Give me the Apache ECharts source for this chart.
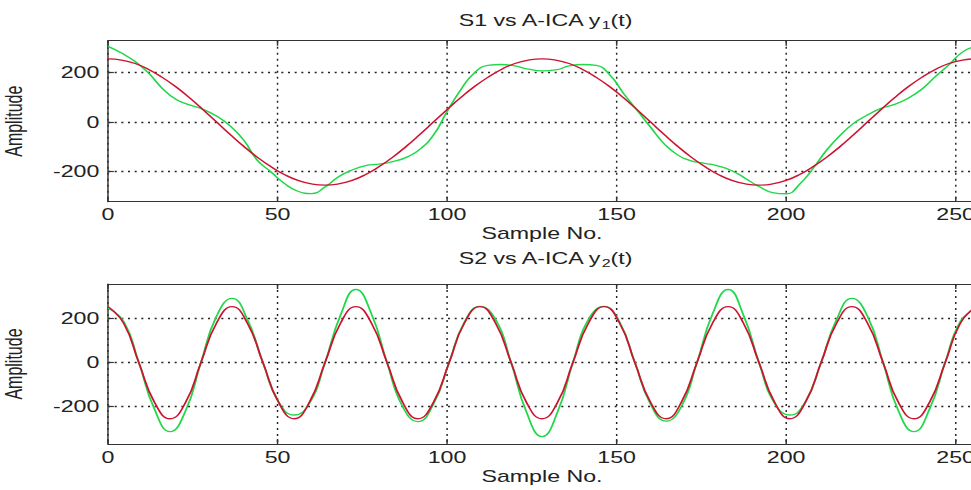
<!DOCTYPE html>
<html><head><meta charset="utf-8">
<script src="https://cdn.jsdelivr.net/npm/echarts@6/dist/echarts.min.js"></script>
<style>
html,body{margin:0;padding:0;background:#fff;overflow:hidden;width:971px;height:490px}
#wrap{width:971px;height:490px;overflow:hidden;position:relative;background:#fff}
#chart{width:670px;height:490px;position:absolute;left:0;top:0;transform:scaleX(1.44925);transform-origin:0 0}
</style></head>
<body><div id="wrap"><div id="chart"></div></div>
<script>
// ---- data ----
const sampleTop = [0,4,8,12,16,20,24,28,32,36,40,44,48,52,56,60,64,68,72,76,80,84,88,92,96,100,104,108,112,116,120,124,128,132,136,140,144,148,152,156,160,164,168,172,176,180,184,188,192,196,200,204,208,212,216,220,224,228,232,236,240,244,248,252,256];
const s1 = [255,250,236,212,180,142,98,50,0,-50,-98,-142,-180,-212,-236,-250,-255,-250,-236,-212,-180,-142,-98,-50,0,50,98,142,180,212,236,250,255,250,236,212,180,142,98,50,0,-50,-98,-142,-180,-212,-236,-250,-255,-250,-236,-212,-180,-142,-98,-50,0,50,98,142,180,212,236,250,255];
const y1 = [305,278,244,197,136,92,69,51,24,-16,-73,-154,-201,-248,-280,-289,-263,-221,-194,-176,-170,-160,-143,-110,-53,42,129,197,228,232,226,213,206,210,226,232,228,190,116,48,-21,-88,-133,-157,-167,-178,-197,-228,-261,-285,-290,-251,-187,-113,-53,-5,28,55,71,96,132,183,230,282,305];
const sampleBottom = [0,4.6,9.1,13.7,18.3,22.9,27.4,32.0,36.6,41.1,45.7,50.3,54.9,59.4,64.0,68.6,73.1,77.7,82.3,86.9,91.4,96.0,100.6,105.1,109.7,114.3,118.9,123.4,128.0,132.6,137.1,141.7,146.3,150.9,155.4,160.0,164.6,169.1,173.7,178.3,182.9,187.4,192.0,196.6,201.1,205.7,210.3,214.9,219.4,224.0,228.6,233.1,237.7,242.3,246.9,251.4,256.0];
const s2 = [255,180,0,-180,-255,-180,0,180,255,180,0,-180,-255,-180,0,180,255,180,0,-180,-255,-180,0,180,255,180,0,-180,-255,-180,0,180,255,180,0,-180,-255,-180,0,180,255,180,0,-180,-255,-180,0,180,255,180,0,-180,-255,-180,0,180,255];
const y2 = [248,188,0,-211,-314,-218,0,211,293,197,0,-178,-238,-185,0,217,333,222,0,-200,-268,-188,0,184,256,196,0,-224,-336,-224,0,196,256,184,0,-188,-266,-200,0,222,333,217,0,-185,-238,-178,0,197,293,211,0,-218,-314,-211,0,188,248];
const xTicks = [0,50,100,150,200,250];
const yTicks = [-200,0,200];
const titles = [['S1 vs A-ICA y','1','(t)'],['S2 vs A-ICA y','2','(t)']];
const xName = 'Sample No.';
const yName = 'Amplitude';

// ---- layout (inner coordinates, page is stretched horizontally) ----
const S = 971/670;
const L = 108/S, R = 670 - 976/S;
const FONT = 'Liberation Sans';
const TXT = '#222';
const AX = '#333';
const RED = '#cc1430', GREEN = '#22d84a';

const grids = [
  {left:L, right:R, top:40.7, height:161, outerBoundsMode:'none', containLabel:false},
  {left:L, right:R, top:284, height:160, outerBoundsMode:'none', containLabel:false}
];
const yRange = [[-322,328],[-370,358]];

function xBottom(g){
  return {gridIndex:g, type:'value', min:0, max:256, position:'bottom',
    axisLine:{show:true, onZero:false, lineStyle:{color:AX, width:1}},
    axisTick:{show:true, inside:true, length:5, customValues:xTicks, lineStyle:{color:AX, width:1}},
    axisLabel:{show:true, customValues:xTicks, margin:5, color:TXT, fontFamily:FONT, fontSize:16},
    splitLine:{show:true, lineStyle:{color:'#222', width:1, type:[2,4]}},
    name:xName, nameLocation:'middle', nameGap:24,
    nameTextStyle:{color:TXT, fontFamily:FONT, fontSize:16, fontWeight:'normal'}};
}
function xTop(g){
  return {gridIndex:g, type:'value', min:0, max:256, position:'top',
    axisLine:{show:true, onZero:false, lineStyle:{color:AX, width:1}},
    axisTick:{show:true, inside:true, length:5, customValues:xTicks, lineStyle:{color:AX, width:1}},
    axisLabel:{show:false}, splitLine:{show:false}};
}
function yLeft(g){
  return {gridIndex:g, type:'value', min:yRange[g][0], max:yRange[g][1], position:'left',
    axisLine:{show:true, onZero:false, lineStyle:{color:AX, width:1}},
    axisTick:{show:true, inside:true, length:4, customValues:yTicks, lineStyle:{color:AX, width:1.2}},
    axisLabel:{show:true, customValues:yTicks, margin:6, color:TXT, fontFamily:FONT, fontSize:16},
    splitLine:{show:true, lineStyle:{color:'#222', width:1.3, type:[1.4,3.2]}},
    name:yName, nameLocation:'middle', nameGap:57, nameRotate:90,
    nameTextStyle:{color:TXT, fontFamily:FONT, fontSize:16, fontWeight:'normal'}};
}
function pairs(xs, ys){ return xs.map((x,i)=>[x, ys[i]]); }
function line(xi, yi, data, color){
  return {type:'line', xAxisIndex:xi, yAxisIndex:yi, data:data, showSymbol:false, smooth:true,
    lineStyle:{color:color, width:1.3}, itemStyle:{color:color}, silent:true, animation:false};
}
function titleOpt(t, top){
  return {text:'{a|'+t[0]+'}{s|'+t[1]+'}{a|'+t[2]+'}', left:371, top:top, textAlign:'center',
    textStyle:{fontWeight:'normal', rich:{
      a:{fontFamily:FONT, fontSize:16, fontWeight:'normal', color:TXT, lineHeight:22},
      s:{fontFamily:FONT, fontSize:11, fontWeight:'normal', color:TXT, lineHeight:8, verticalAlign:'bottom'}
    }}};
}

const chart = echarts.init(document.getElementById('chart'), null, {renderer:'svg', width:670, height:490});
chart.setOption({
  backgroundColor:'#fff',
  animation:false,
  title:[titleOpt(titles[0], 4), titleOpt(titles[1], 242)],
  grid:grids,
  xAxis:[xBottom(0), xTop(0), xBottom(1), xTop(1)],
  yAxis:[yLeft(0), yLeft(1)],
  series:[
    line(0,0,pairs(sampleTop,y1),GREEN),
    line(0,0,pairs(sampleTop,s1),RED),
    line(2,1,pairs(sampleBottom,y2),GREEN),
    line(2,1,pairs(sampleBottom,s2),RED)
  ]
});
</script></body></html>
